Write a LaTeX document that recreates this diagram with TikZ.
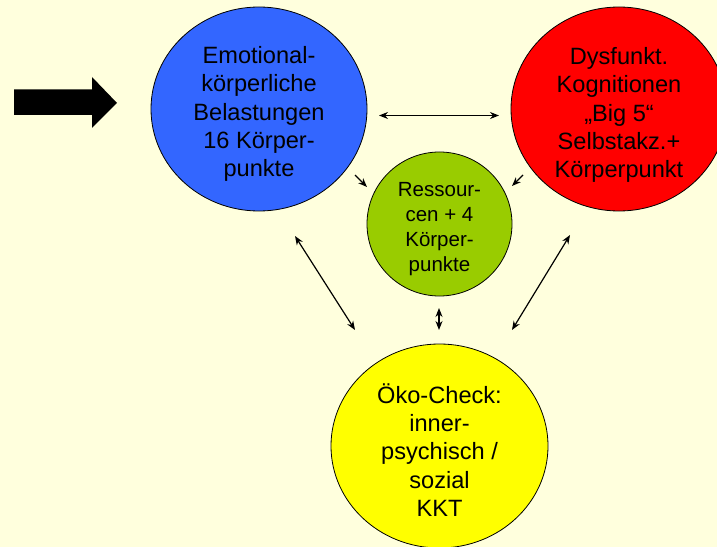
\documentclass[tikz,border=0pt]{standalone}
\usepackage{fontspec}
\setmainfont{Liberation Sans}
\usetikzlibrary{shapes.geometric,arrows.meta}
\definecolor{paper}{RGB}{255,255,221}
\definecolor{bblue}{RGB}{51,102,255}
\definecolor{bred}{RGB}{255,0,0}
\definecolor{bgreen}{RGB}{153,204,0}
\definecolor{byellow}{RGB}{255,255,0}
\begin{document}
\begin{tikzpicture}[x=1bp,y=-1bp,
  bubble/.style={ellipse, draw=black, line width=0.8bp, inner sep=0pt},
  caption/.style={align=center, inner sep=0pt,
    font=\fontsize{23.6bp}{28.4bp}\selectfont},
  smallcaption/.style={caption, font=\fontsize{20.5bp}{25.2bp}\selectfont},
  link/.style={line width=1.2bp, {Stealth[length=9bp,width=7bp]}-{Stealth[length=9bp,width=7bp]}},
  feed/.style={line width=1.2bp, -{Stealth[length=9bp,width=7bp]}}]
\useasboundingbox (0,0) rectangle (717,547);
\clip (0,0) rectangle (717,547);
\fill[paper] (0,0) rectangle (717,547);

% the four circles
\node[bubble, fill=bblue, minimum width=216bp, minimum height=204bp] (emo) at (259,109) {};
\node[bubble, fill=bred, minimum width=216bp, minimum height=204bp] (kog) at (619,109) {};
\node[bubble, fill=bgreen, minimum width=145bp, minimum height=144bp] (res) at (439.5,224) {};
\node[bubble, fill=byellow, minimum width=217bp, minimum height=204bp] (oeko) at (439.5,446) {};

% their captions
\node[caption] (emoText) at ([yshift=-5bp]emo.center)
  {Emotional-\\körperliche\\Belastungen\\16 Körper-\\punkte};
\node[caption] (kogText) at ([yshift=-6bp]kog.center)
  {Dysfunkt.\\Kognitionen\\„Big 5“\\Selbstakz.+\\Körperpunkt};
\node[smallcaption] (resText) at ([yshift=-5bp]res.center)
  {Ressour-\\cen + 4\\Körper-\\punkte};
\node[caption] (oekoText) at ([yshift=-4bp]oeko.center)
  {Öko-Check:\\inner-\\psychisch /\\sozial\\KKT};

% thick block arrow pointing at the blue circle
\fill[black] (14,89.5) -- (92,89.5) -- (92,77) -- (117,103) -- (92,128) -- (92,115) -- (14,115) -- cycle;

% free-standing connectors
\coordinate (h1) at (379,115.5);
\coordinate (h2) at (499,115.5);
\coordinate (a1) at (355,175);
\coordinate (a2) at (367,187);
\coordinate (b1) at (523,175);
\coordinate (b2) at (512,186);
\coordinate (l1) at (295,236);
\coordinate (l2) at (355,330);
\coordinate (r1) at (570,235);
\coordinate (r2) at (512,330);
\coordinate (m1) at (439,308);
\coordinate (m2) at (439,330);

\draw[link] (h1) -- (h2);
\draw[feed] (a1) -- (a2);
\draw[feed] (b1) -- (b2);
\draw[link] (l1) -- (l2);
\draw[link] (r1) -- (r2);
\draw[link] (m1) -- (m2);
\end{tikzpicture}
\end{document}
